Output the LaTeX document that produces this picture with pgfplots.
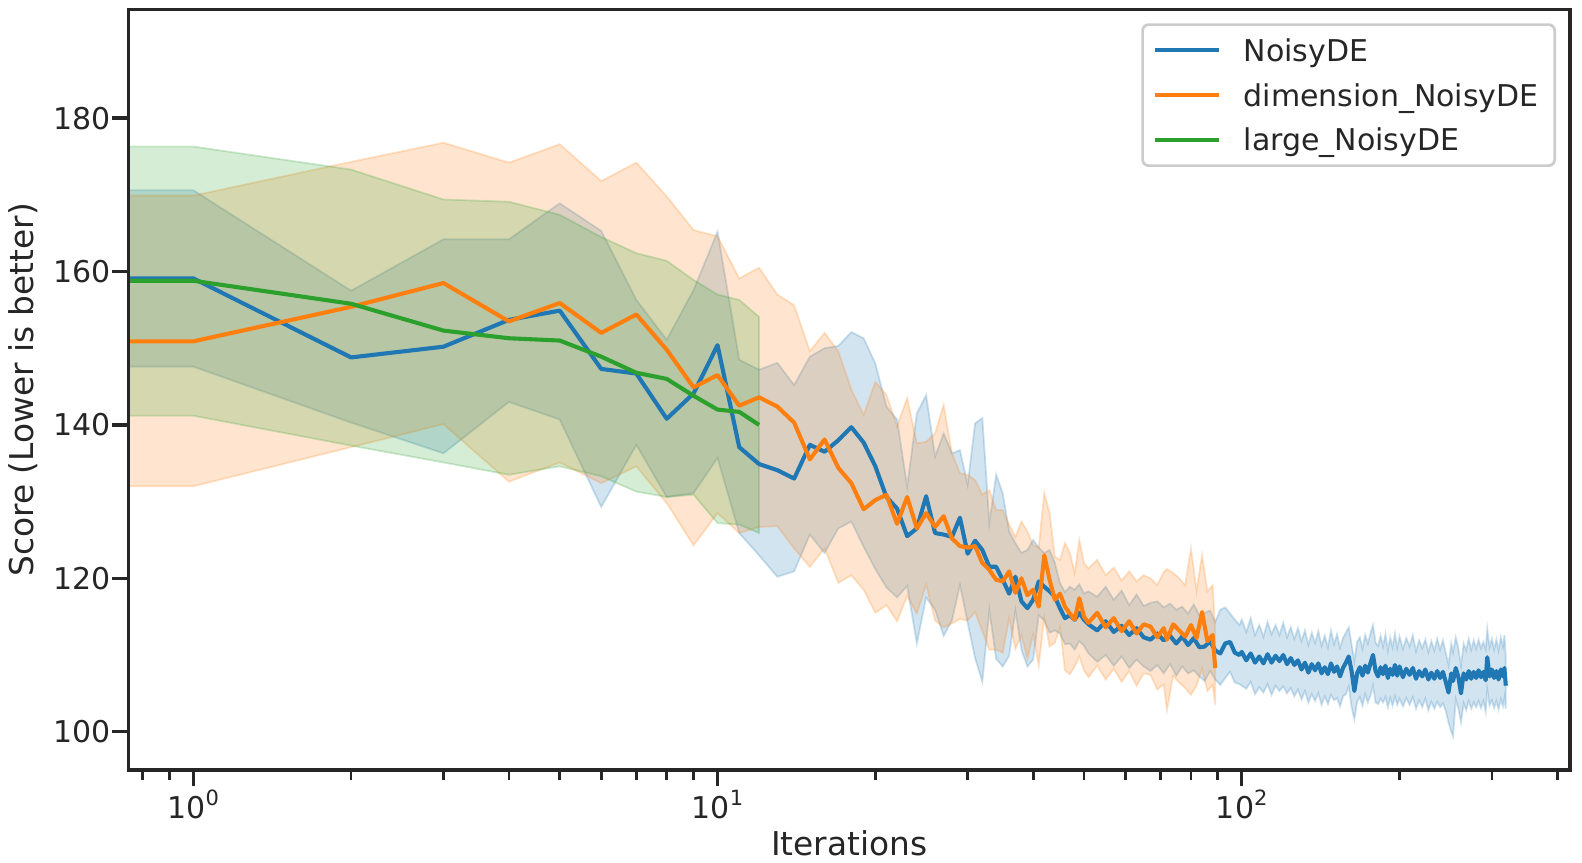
\documentclass[border=0pt]{standalone}
\usepackage{fontspec}
\setmainfont{DejaVu Sans}
\usepackage{pgfplots}
\usepackage{pgfplotstable}
\usepgfplotslibrary{fillbetween}
\pgfplotsset{compat=1.18}
\definecolor{tabblue}{RGB}{31,119,180}
\definecolor{taborange}{RGB}{255,127,14}
\definecolor{tabgreen}{RGB}{44,160,44}
\definecolor{axgray}{RGB}{38,38,38}
\definecolor{leggray}{RGB}{204,204,204}
\newcommand{\tenpow}[1]{10\raisebox{0.42em}{\fontsize{10.5}{12}\selectfont #1}}

\pgfplotstableread{
x m lo hi
0.5 159.1 147.6 170.6
1 159.1 147.6 170.6
2 148.8 140.3 157.5
3 150.2 136.3 164.2
4 153.7 143.0 164.2
5 154.9 140.7 168.9
6 147.3 129.3 165.3
7 146.7 137.4 156.3
8 140.8 130.6 151.1
9 144.1 131.1 157.6
10 150.4 135.7 165.2
11 137.1 125.9 148.5
12 134.9 123.0 147.2
13 134.1 120.2 148.1
14 133.0 120.9 145.2
15 137.4 125.7 148.9
16 136.5 123.3 150.0
17 138.0 126.5 150.3
18 139.7 127.4 152.1
19 137.7 124.1 151.3
20 134.6 121.2 148.0
21 130.6 118.8 142.4
22 129.1 117.5 140.7
23 125.5 119.0 132.0
24 126.5 111.5 141.5
25 130.7 117.5 143.9
26 125.9 115.9 135.9
27 125.7 112.5 138.9
28 125.4 114.5 136.3
29 127.9 119.1 136.7
30 123.2 114.2 132.2
31 124.9 109.6 140.2
32 123.7 106.5 140.9
33 121.5 115.8 127.2
34 121.5 109.5 133.5
35 119.8 108.5 131.1
36 118.0 109.9 126.1
37 120.2 115.8 124.6
38 117.0 110.7 123.3
39 116.1 108.5 123.7
40 117.2 109.4 125.0
41 119.6 115.2 124.0
42 118.9 114.5 123.3
43 118.3 112.9 123.7
44 117.6 113.2 122.0
45 116.1 112.8 119.4
46 114.8 111.4 118.2
47 115.2 111.5 118.9
48 114.6 110.7 118.5
49 115.5 111.8 119.2
50 114.6 111.2 118.0
51 114.0 110.2 118.3
53 113.2 109.1 117.6
55 114.4 110.0 118.9
57 113.0 108.6 117.2
59 113.8 109.8 118.4
61 112.6 108.3 116.5
63 113.5 109.4 117.9
65 112.3 108.5 116.4
67 112.0 107.9 116.8
69 112.8 108.7 117.0
71 111.9 107.6 116.2
73 112.5 108.8 116.7
75 111.5 107.3 115.9
77 112.4 108.5 116.3
79 111.3 107.6 115.4
81 112.2 108.0 116.6
83 111.0 107.2 115.2
85 111.1 106.6 115.5
87 111.8 107.9 115.8
89 110.6 106.8 114.3
91 110.2 106.1 115.9
93 111.5 107.0 116.2
95 111.7 107.8 115.4
97 110.3 106.4 114.6
99 110.0 106.2 113.9
100 110.4 106.0 114.6
102 109.3 105.6 113.0
104 110.2 106.5 114.8
106 109.0 104.9 112.6
108 109.8 105.8 113.9
110 108.9 105.1 112.4
112 110.1 106.2 114.3
114 109.0 104.8 112.7
116 109.9 106.0 113.9
118 109.2 105.3 112.6
120 110.0 105.9 114.2
122 108.8 105.0 112.3
124 109.6 105.7 113.6
126 108.7 104.6 112.1
128 109.3 105.5 113.5
130 108.1 104.2 111.8
132 109.0 105.3 113.2
134 107.7 103.8 111.3
136 108.8 104.9 112.9
138 108.0 104.0 111.6
140 108.9 105.0 113.1
142 107.6 103.5 111.2
144 108.4 104.6 112.5
146 107.5 103.6 111.0
148 108.9 104.8 113.2
150 107.8 104.1 111.4
152 108.5 104.4 112.7
154 107.2 103.3 110.9
156 108.3 104.6 112.2
158 109.0 104.9 112.9
160 109.8 105.9 113.6
162 107.9 103.2 111.4
164 105.3 101.6 109.2
166 107.6 103.9 111.7
168 108.4 104.5 112.3
170 107.3 103.4 110.8
172 108.6 104.9 112.6
174 107.7 103.8 111.5
176 108.9 104.7 112.8
178 110.0 106.0 113.9
180 107.9 103.8 111.6
182 107.2 103.6 111.2
184 108.4 104.3 112.5
186 107.5 103.8 111.1
188 108.6 104.5 112.7
190 107.0 103.2 110.6
192 108.2 104.4 112.3
194 107.4 103.4 111.0
196 108.7 104.6 112.8
198 107.3 103.5 110.9
200 108.5 104.3 112.4
203 107.1 103.3 110.8
206 108.2 104.4 112.2
209 107.4 103.5 111.1
212 108.3 104.5 112.6
215 106.9 103.0 110.5
218 107.9 104.1 111.9
221 107.2 103.2 110.9
224 108.1 104.3 112.0
227 106.8 102.8 110.4
230 107.7 103.9 111.8
233 106.9 103.0 110.6
236 107.9 103.9 112.1
239 107.0 103.2 110.7
242 107.8 103.7 111.9
245 106.5 102.7 110.3
248 105.1 101.2 108.7
251 107.6 100.0 111.5
253 106.6 99.4 110.4
256 108.3 104.2 112.3
259 107.1 103.0 110.9
262 105.0 101.2 108.6
265 107.6 103.7 111.5
268 106.8 102.8 110.6
271 107.9 104.0 112.1
274 106.9 103.0 110.7
277 107.8 103.8 111.9
280 107.0 103.2 110.8
283 108.0 104.0 112.0
286 107.1 103.1 110.9
289 107.8 104.0 111.7
292 106.7 102.6 110.8
294 109.7 105.5 113.4
297 107.2 103.4 111.0
300 108.1 104.1 112.1
303 107.0 103.1 110.7
306 107.9 104.0 112.0
309 106.8 102.9 110.6
312 108.1 104.2 112.3
315 107.2 103.3 111.1
317 108.3 104.4 112.6
319 106.0 103.0 109.7
}\blueT

\pgfplotstableread{
x m lo hi
0.5 150.9 132.0 169.9
1 150.9 132.0 169.9
2 155.4 137.1 174.3
3 158.5 140.1 176.8
4 153.5 132.6 174.2
5 155.9 135.1 176.6
6 152.0 132.4 171.8
7 154.4 134.6 174.2
8 149.8 129.8 169.8
9 144.9 124.3 165.4
10 146.5 128.5 164.6
11 142.5 125.9 159.1
12 143.6 126.7 160.5
13 142.4 126.8 157.0
14 140.3 123.9 155.6
15 135.5 121.5 149.6
16 138.1 123.9 152.0
17 134.4 119.4 149.6
18 132.4 120.4 144.6
19 129.0 118.5 141.3
20 130.2 115.5 145.6
21 130.9 116.5 143.9
22 127.1 114.4 139.8
23 130.6 117.7 143.5
24 126.5 115.4 137.6
25 128.5 119.2 137.8
26 126.7 114.5 138.9
27 128.1 113.6 142.6
28 125.2 114.1 136.3
29 124.2 114.7 133.7
30 124.0 114.5 133.5
31 124.2 115.6 132.8
32 122.0 113.1 130.9
33 121.1 110.7 131.5
34 119.8 110.7 128.9
35 119.6 110.3 128.9
36 120.9 114.8 127.0
37 118.1 110.8 125.4
38 120.0 112.6 127.4
39 117.8 109.5 126.1
40 118.5 112.7 124.3
41 116.3 108.6 124.0
42 123.0 114.9 131.1
43 119.8 111.1 128.5
44 117.2 111.6 122.8
45 118.0 113.6 122.4
46 116.3 108.0 124.6
47 115.4 107.5 123.3
48 114.6 108.5 120.7
49 117.4 109.8 125.0
50 115.0 108.0 122.0
51 114.2 107.1 121.3
53 115.5 108.6 122.4
55 113.6 106.8 120.4
57 114.8 108.2 121.4
59 113.1 106.5 119.7
61 114.4 107.9 120.9
63 112.8 106.0 119.6
65 114.0 107.6 120.4
67 113.7 107.4 120.0
69 112.3 105.5 119.1
71 113.5 106.2 120.8
72 112.0 102.8 121.2
74 114.0 107.3 120.7
76 113.2 106.4 120.0
78 112.4 105.7 119.1
80 113.9 104.8 123.9
82 112.2 106.0 118.4
84 115.6 108.2 123.0
86 111.8 105.3 118.3
88 112.6 106.1 119.1
89 108.3 103.5 113.1
}\orangeT

\pgfplotstableread{
x m lo hi
0.5 158.8 141.2 176.3
1 158.8 141.2 176.3
2 155.8 137.3 173.3
3 152.3 135.1 169.4
4 151.3 133.5 169.1
5 151.0 134.6 167.4
6 148.9 133.3 164.5
7 146.8 131.3 162.4
8 146.0 130.6 161.4
9 143.8 130.9 158.9
10 142.0 127.2 157.0
11 141.7 127.0 156.3
12 140.0 125.9 154.1
}\greenT

\begin{document}
\begin{tikzpicture}
\begin{axis}[
  at={(64.35pt,46pt)}, anchor=south west,
  scale only axis, width=720.65pt, height=380.35pt,
  xmode=log, xmin=0.7529, xmax=422.9, ymin=95.0, ymax=194.2,
  axis on top,
  axis line style={line width=1.7pt, color=axgray},
  tick align=outside, tick pos=left,
  major tick length=8.2pt, minor tick length=5pt,
  every major tick/.style={line width=1.7pt, color=axgray},
  every minor tick/.style={line width=1.35pt, color=axgray},
  xtick={1,10,100},
  xticklabels={\tenpow{0},\tenpow{1},\tenpow{2}},
  minor xtick={0.8,0.9,2,3,4,5,6,7,8,9,20,30,40,50,60,70,80,90,200,300,400},
  ytick={100,120,140,160,180},
  /pgf/number format/assume math mode=true,
  ticklabel style={font=\fontsize{15}{18}\selectfont, color=axgray},
  xticklabel style={anchor=base, inner sep=0pt, yshift=-16pt},
  yticklabel style={anchor=east, inner sep=0pt, xshift=-0.5pt},
  xlabel={Iterations}, ylabel={Score (Lower is better)},
  label style={font=\fontsize{16.4}{19}\selectfont, color=axgray, inner sep=0pt},
  xlabel style={at={(axis description cs:0.5,-0.11174)}, anchor=base},
  ylabel style={at={(axis description cs:-0.06619,0.5)}, anchor=base},
  legend cell align=left,
  legend image code/.code={\draw[#1, line width=2.05pt] (0pt,0pt) -- (32pt,0pt); \path[draw=none, fill=none] (0pt,0pt) -- (44.5pt,0pt);},
  legend style={at={(1,1)}, anchor=north east, xshift=-7pt, yshift=-7pt,
    draw=leggray, line width=1.35pt, fill=white, fill opacity=0.8, text opacity=1,
    rounded corners=3pt, inner xsep=5pt, inner ysep=5.3pt,
    font=\fontsize{15}{18}\selectfont, text=axgray,
    row sep=7.3pt, column sep=0pt,
    nodes={inner sep=0pt, text height=13pt, text depth=2.1pt, anchor=west}},
]
% bands
\addplot[name path=bh, draw=none, forget plot] table[x=x,y=hi]{\blueT};
\addplot[name path=bl, draw=none, forget plot] table[x=x,y=lo]{\blueT};
\addplot[fill=tabblue, fill opacity=0.2, draw=tabblue, draw opacity=0.22, line width=0.9pt, forget plot] fill between[of=bh and bl];
\addplot[name path=oh, draw=none, forget plot] table[x=x,y=hi]{\orangeT};
\addplot[name path=ol, draw=none, forget plot] table[x=x,y=lo]{\orangeT};
\addplot[fill=taborange, fill opacity=0.2, draw=taborange, draw opacity=0.22, line width=0.9pt, forget plot] fill between[of=oh and ol];
\addplot[name path=gh, draw=none, forget plot] table[x=x,y=hi]{\greenT};
\addplot[name path=gl, draw=none, forget plot] table[x=x,y=lo]{\greenT};
\addplot[fill=tabgreen, fill opacity=0.2, draw=tabgreen, draw opacity=0.22, line width=0.9pt, forget plot] fill between[of=gh and gl];
% lines
\addplot[color=tabblue, line width=2.05pt, line join=round, no markers] table[x=x,y=m]{\blueT};
\addlegendentry{\makebox[150.5pt][l]{NoisyDE}}
\addplot[color=taborange, line width=2.05pt, line join=round, no markers] table[x=x,y=m]{\orangeT};
\addlegendentry{\makebox[150.5pt][l]{dimension\_NoisyDE}}
\addplot[color=tabgreen, line width=2.05pt, line join=round, no markers] table[x=x,y=m]{\greenT};
\addlegendentry{\makebox[150.5pt][l]{large\_NoisyDE}}
\end{axis}
\pgfresetboundingbox
\useasboundingbox (0,0) rectangle (791pt,431pt);
\end{tikzpicture}
\end{document}
